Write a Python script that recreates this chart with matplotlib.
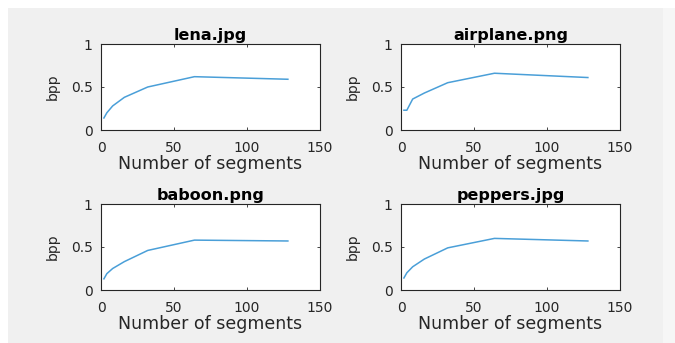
import matplotlib
matplotlib.use("Agg")
import matplotlib.pyplot as plt
from matplotlib.patches import Rectangle

# data
segments = [2, 4, 8, 16, 32, 64, 128]
lena = [0.14, 0.20, 0.28, 0.38, 0.50, 0.62, 0.59]
airplane = [0.23, 0.23, 0.36, 0.43, 0.55, 0.66, 0.61]
baboon = [0.13, 0.19, 0.25, 0.33, 0.46, 0.58, 0.57]
peppers = [0.14, 0.20, 0.27, 0.36, 0.49, 0.60, 0.57]

titles = ["lena.jpg", "airplane.png", "baboon.png", "peppers.jpg"]
series = [lena, airplane, baboon, peppers]
xticks = [0, 50, 100, 150]
yticks = [0, 0.5, 1]

W, H = 675, 343
fig = plt.figure(figsize=(W / 100, H / 100), dpi=100, facecolor="white")
plt.rcParams["font.family"] = ["DejaVu Sans"]

# matlab style grey window background
fig.patches.append(Rectangle((8 / W, 0), (663 - 8) / W, (H - 8) / H,
                             transform=fig.transFigure, facecolor="#f0f0f0",
                             edgecolor="none", zorder=-10))
fig.patches.append(Rectangle((663 / W, 0), 12 / W, (H - 8) / H,
                             transform=fig.transFigure, facecolor="#f6f6f6",
                             edgecolor="none", zorder=-10))

# axes boxes in pixels: left, top
lefts = [101, 401, 101, 401]
tops = [44, 44, 204, 204]
aw, ah = 219, 86

txt = "#262626"
for i in range(4):
    ax = fig.add_axes([lefts[i] / W, 1 - (tops[i] + ah) / H, aw / W, ah / H])
    ax.set_facecolor("white")
    ax.plot(segments, series[i], color="#4a9fd8", linewidth=1.1)
    ax.set_xlim(0, 150)
    ax.set_ylim(0, 1)
    ax.set_xticks(xticks)
    ax.set_yticks(yticks)
    ax.set_yticklabels(["0", "0.5", "1"])
    ax.tick_params(direction="in", length=2.5, width=0.6, top=True, right=True,
                   labelsize=10, labelcolor=txt, color=txt)
    ax.tick_params(axis="x", pad=8)
    ax.tick_params(axis="y", pad=6)
    for s in ax.spines.values():
        s.set_color(txt)
        s.set_linewidth(0.8)
    ax.set_title(titles[i], fontsize=11.5, fontweight="bold", color="black", pad=3)
    ax.set_xlabel("Number of segments", fontsize=12.5, color=txt, labelpad=0)
    ax.set_ylabel("bpp", fontsize=10, color=txt, labelpad=8)

fig.savefig("out.png", dpi=100, facecolor=fig.get_facecolor())
